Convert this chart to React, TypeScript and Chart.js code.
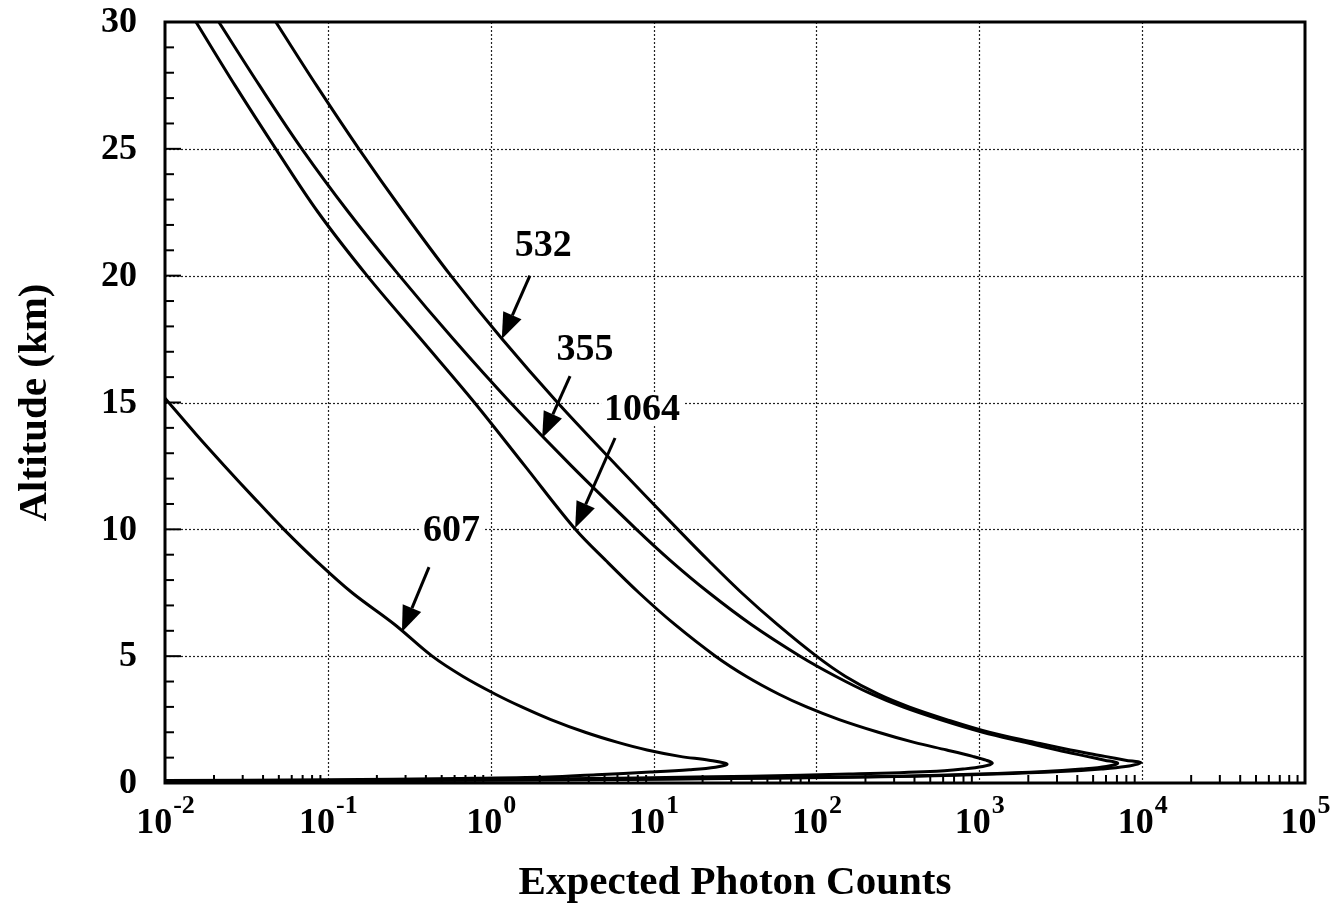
import React, { useEffect, useRef } from "react";
import { Chart, registerables } from "chart.js";

Chart.register(...registerables);

// ---- Data (altitude in km, expected photon counts) ----
const ALT_532 = [0.07, 0.1, 0.14, 0.2, 0.27, 0.35, 0.45, 0.55, 0.65, 0.8, 0.9, 1.05, 1.3, 1.6, 2.0, 2.5, 3.0, 3.5, 4.2, 5.0, 6.25, 7.5, 8.75, 10, 12.5, 15, 17.5, 20, 22.5, 25, 27.5, 30];
const CNT_532 = [0.01, 0.32, 6.3, 63, 400, 1260, 3160, 5600, 7900, 9800, 7900, 5900, 3630, 2190, 1150, 630, 370, 240, 151, 100, 57.5, 34.7, 21.9, 14.1, 5.96, 2.57, 1.175, 0.569, 0.292, 0.155, 0.0851, 0.0479];

const ALT_355 = [0.07, 0.1, 0.14, 0.2, 0.27, 0.35, 0.45, 0.55, 0.65, 0.78, 0.9, 1.05, 1.3, 1.6, 2.0, 2.5, 3.0, 3.5, 4.2, 5.0, 6.25, 7.5, 8.75, 10, 12.5, 15, 17.5, 20, 22.5, 25, 27.5, 30];
const CNT_355 = [0.01, 0.25, 5, 50, 316, 1000, 2510, 4270, 6030, 7080, 5890, 4570, 3020, 1910, 1050, 575, 339, 219, 132, 79.4, 39.8, 21.9, 12.8, 7.85, 3.13, 1.32, 0.589, 0.275, 0.134, 0.0692, 0.038, 0.0214];

const ALT_1064 = [0.08, 0.1, 0.14, 0.2, 0.27, 0.35, 0.45, 0.55, 0.65, 0.78, 0.9, 1.05, 1.3, 1.6, 2.0, 2.5, 3.0, 3.5, 4.2, 5.0, 6.25, 7.5, 8.75, 10, 12.5, 15, 17.5, 20, 22.5, 25, 27.5, 30];
const CNT_1064 = [0.01, 0.1, 1, 7.9, 40, 158, 500, 794, 1050, 1200, 1100, 912, 631, 398, 240, 138, 87, 58.9, 37.2, 24, 13.5, 8.13, 5.13, 3.31, 1.62, 0.794, 0.372, 0.174, 0.0871, 0.0479, 0.0269, 0.0155];

const ALT_607 = [0.1, 0.13, 0.18, 0.24, 0.33, 0.43, 0.52, 0.62, 0.75, 0.9, 1.05, 1.3, 1.6, 2.0, 2.5, 3.0, 3.5, 4.2, 5.0, 6.25, 7.5, 8.75, 10, 11.25, 12.5, 13.75, 15.17];
const CNT_607 = [0.01, 0.1, 0.63, 2.29, 4.47, 9.55, 16.6, 24, 28.2, 21.9, 14.5, 9.12, 6.03, 3.8, 2.34, 1.55, 1.07, 0.676, 0.437, 0.257, 0.141, 0.0851, 0.0537, 0.0351, 0.0232, 0.0155, 0.01];

// Tick labels
const X_EXPONENTS = [-2, -1, 0, 1, 2, 3, 4, 5];
const Y_TICKS = [0, 5, 10, 15, 20, 25, 30];

// Curve annotations (data coordinates: counts, km)
const NOTE_TEXT = ["532", "355", "1064", "607"];
const NOTE_POS_X = [2.1, 3.79, 8.5, 0.574];
const NOTE_POS_Y = [21.2, 17.1, 14.74, 9.95];
const NOTE_TAIL_X = [1.74, 3.07, 5.8, 0.418];
const NOTE_TAIL_Y = [20.0, 16.04, 13.6, 8.51];
const NOTE_TIP_X = [1.17, 2.07, 3.3, 0.285];
const NOTE_TIP_Y = [17.5, 13.6, 10.05, 5.95];

const FONT = "'Liberation Serif', 'Times New Roman', serif";

function series(alt: number[], cnt: number[]) {
  return alt.map((a, i) => ({ x: cnt[i], y: a }));
}

const decorPlugin = {
  id: "decor",
  beforeDatasetsDraw(chart: any) {
    const { ctx, chartArea: a, scales } = chart;
    const x = scales.x;
    const y = scales.y;
    ctx.save();
    ctx.strokeStyle = "#222";
    ctx.lineWidth = 1.2;
    ctx.setLineDash([2, 2]);
    X_EXPONENTS.forEach((e) => {
      if (e === X_EXPONENTS[0] || e === X_EXPONENTS[X_EXPONENTS.length - 1]) return;
      const px = Math.round(x.getPixelForValue(Math.pow(10, e))) + 0.5;
      ctx.beginPath();
      ctx.moveTo(px, a.top);
      ctx.lineTo(px, a.bottom);
      ctx.stroke();
    });
    Y_TICKS.forEach((v) => {
      if (v === Y_TICKS[0] || v === Y_TICKS[Y_TICKS.length - 1]) return;
      const py = Math.round(y.getPixelForValue(v)) + 0.5;
      ctx.beginPath();
      ctx.moveTo(a.left, py);
      ctx.lineTo(a.right, py);
      ctx.stroke();
    });
    ctx.restore();
  },
  afterDatasetsDraw(chart: any) {
    const { ctx, chartArea: a, scales } = chart;
    const x = scales.x;
    const y = scales.y;
    ctx.save();
    ctx.setLineDash([]);
    ctx.strokeStyle = "#000";
    // frame
    ctx.lineWidth = 3;
    ctx.strokeRect(a.left, a.top, a.right - a.left, a.bottom - a.top);
    // left ticks (inward)
    ctx.lineWidth = 2;
    for (let v = 1; v < 30; v++) {
      const py = y.getPixelForValue(v);
      const len = v % 5 === 0 ? 16 : 9;
      ctx.beginPath();
      ctx.moveTo(a.left, py);
      ctx.lineTo(a.left + len, py);
      ctx.stroke();
    }
    // bottom minor log ticks (inward)
    for (let e = -2; e < 5; e++) {
      for (let m = 2; m <= 9; m++) {
        const px = x.getPixelForValue(m * Math.pow(10, e));
        ctx.beginPath();
        ctx.moveTo(px, a.bottom);
        ctx.lineTo(px, a.bottom - 8);
        ctx.stroke();
      }
    }
    // y tick labels
    ctx.fillStyle = "#000";
    ctx.font = `bold 36px ${FONT}`;
    ctx.textAlign = "right";
    ctx.textBaseline = "middle";
    Y_TICKS.forEach((v) => {
      ctx.fillText(String(v), a.left - 28, y.getPixelForValue(v) + 1);
    });
    // x tick labels: 10^n
    ctx.textBaseline = "alphabetic";
    ctx.textAlign = "left";
    X_EXPONENTS.forEach((e) => {
      const px = x.getPixelForValue(Math.pow(10, e));
      ctx.font = `bold 36px ${FONT}`;
      const w1 = ctx.measureText("10").width;
      ctx.font = `bold 26px ${FONT}`;
      const es = String(e);
      const w2 = ctx.measureText(es).width;
      const start = px - (w1 + w2) / 2;
      ctx.font = `bold 36px ${FONT}`;
      ctx.fillText("10", start, a.bottom + 50);
      ctx.font = `bold 26px ${FONT}`;
      ctx.fillText(es, start + w1 + 1, a.bottom + 30);
    });
    // annotations
    ctx.font = `bold 38px ${FONT}`;
    ctx.textAlign = "center";
    ctx.textBaseline = "middle";
    NOTE_TEXT.forEach((t, i) => {
      const tx = x.getPixelForValue(NOTE_POS_X[i]);
      const ty = y.getPixelForValue(NOTE_POS_Y[i]);
      const w = ctx.measureText(t).width;
      ctx.fillStyle = "#fff";
      ctx.fillRect(tx - w / 2 - 3, ty - 16, w + 6, 32);
      ctx.fillStyle = "#000";
      ctx.fillText(t, tx, ty + 1);
      const x0 = x.getPixelForValue(NOTE_TAIL_X[i]);
      const y0 = y.getPixelForValue(NOTE_TAIL_Y[i]);
      const x1 = x.getPixelForValue(NOTE_TIP_X[i]);
      const y1 = y.getPixelForValue(NOTE_TIP_Y[i]);
      const ang = Math.atan2(y1 - y0, x1 - x0);
      const headLen = 26;
      const headHalf = 10;
      const bx = x1 - headLen * Math.cos(ang);
      const by = y1 - headLen * Math.sin(ang);
      ctx.lineWidth = 3;
      ctx.beginPath();
      ctx.moveTo(x0, y0);
      ctx.lineTo(bx, by);
      ctx.stroke();
      ctx.beginPath();
      ctx.moveTo(x1, y1);
      ctx.lineTo(bx + headHalf * Math.sin(ang), by - headHalf * Math.cos(ang));
      ctx.lineTo(bx - headHalf * Math.sin(ang), by + headHalf * Math.cos(ang));
      ctx.closePath();
      ctx.fill();
    });
    ctx.restore();
  },
};

export default function App() {
  const ref = useRef<HTMLCanvasElement | null>(null);
  useEffect(() => {
    if (!ref.current) return;
    const line = (label: string, alt: number[], cnt: number[]) => ({
      label,
      data: series(alt, cnt),
      showLine: true,
      borderColor: "#000",
      backgroundColor: "#000",
      borderWidth: 3,
      pointRadius: 0,
      tension: 0.35,
      fill: false,
    });
    const chart = new Chart(ref.current, {
      type: "scatter",
      data: {
        datasets: [
          line("532", ALT_532, CNT_532),
          line("355", ALT_355, CNT_355),
          line("1064", ALT_1064, CNT_1064),
          line("607", ALT_607, CNT_607),
        ],
      },
      options: {
        animation: false,
        responsive: true,
        maintainAspectRatio: false,
        layout: { padding: { top: 22, right: 28, left: 0, bottom: 0 } },
        plugins: { legend: { display: false }, tooltip: { enabled: false } },
        scales: {
          x: {
            type: "logarithmic",
            min: 0.01,
            max: 100000,
            grid: { display: false },
            border: { display: false },
            ticks: { display: false },
            title: {
              display: true,
              text: "Expected Photon Counts",
              color: "#000",
              font: { family: FONT, size: 41, weight: "bold", lineHeight: 1.1 },
              padding: { top: 0, bottom: 9 },
            },
            afterFit: (s: any) => {
              s.height = 132;
            },
          },
          y: {
            type: "linear",
            min: 0,
            max: 30,
            grid: { display: false },
            border: { display: false },
            ticks: { display: false },
            title: {
              display: true,
              text: "Altitude (km)",
              color: "#000",
              font: { family: FONT, size: 41, weight: "bold" },
              padding: { top: 11, bottom: 0 },
            },
            afterFit: (s: any) => {
              s.width = 165;
            },
          },
        },
      },
      plugins: [decorPlugin],
    } as any);
    return () => chart.destroy();
  }, []);
  return (
    <div style={{ position: "fixed", left: 0, top: 0, width: 1333, height: 915 }}>
      <canvas ref={ref} />
    </div>
  );
}
